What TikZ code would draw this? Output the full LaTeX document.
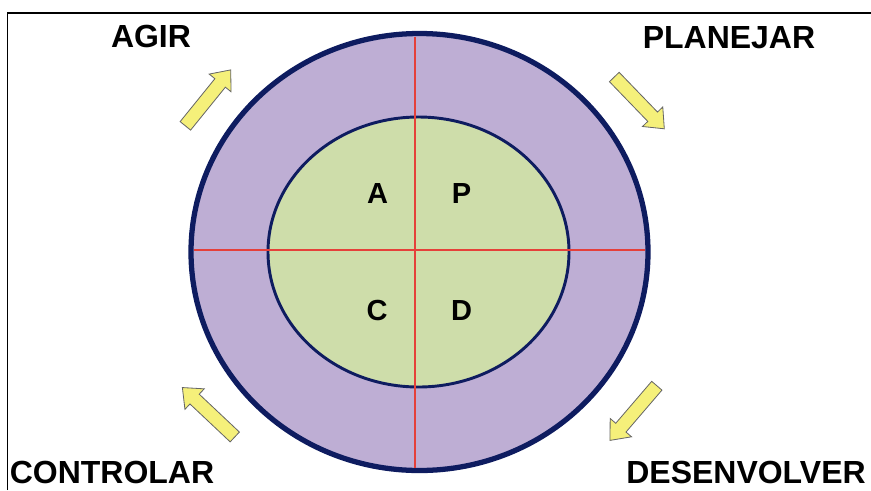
\documentclass[tikz,border=0pt]{standalone}
\usepackage{fontspec}
\setmainfont{Liberation Sans}
\usepackage{tikz}
\usetikzlibrary{shapes.arrows}
\usepackage{xcolor}
\definecolor{ringlilac}{RGB}{190,174,212}
\definecolor{coregreen}{RGB}{206,221,170}
\definecolor{ringnavy}{RGB}{14,28,96}
\definecolor{crossred}{RGB}{229,64,58}
\definecolor{arrowyellow}{RGB}{245,240,122}

\begin{document}
\begin{tikzpicture}[x=0.03cm, y=-0.03cm,
  phase/.style={font=\bfseries\fontsize{27.3}{27.3}\selectfont, anchor=base, inner sep=0pt},
  letter/.style={font=\bfseries\fontsize{24.8}{24.8}\selectfont, anchor=base, inner sep=0pt},
  turn/.style={single arrow, draw=black!60, line width=0.7pt, fill=arrowyellow,
    inner sep=0.19cm, minimum height=2.16cm, single arrow head extend=0.22cm,
    single arrow tip angle=80}]
\useasboundingbox (0,0) rectangle (871,490);
\draw[line width=1.7pt] (7.5,490) -- (7.5,12.5) -- (871,12.5);
\filldraw[fill=ringlilac, draw=ringnavy, line width=4.5pt] (419.5,252) ellipse [x radius=228.5, y radius=218.5];
\filldraw[fill=coregreen, draw=ringnavy, line width=2.5pt] (418.5,252) ellipse [x radius=150.5, y radius=135];
\draw[crossred, line width=1.3pt] (415,36.5) -- (415,467.5);
\draw[crossred, line width=1.3pt] (194,250) -- (645,250);
\node[letter] (a) at (377.5,203) {A};
\node[letter] (p) at (461.5,203) {P};
\node[letter] (c) at (377,320) {C};
\node[letter] (d) at (461.5,320) {D};
\node[phase] (agir) at (151,47) {AGIR};
\node[phase] (planejar) at (729,48) {PLANEJAR};
\node[phase] (controlar) at (112,483) {CONTROLAR};
\node[phase] (desenvolver) at (746,483) {DESENVOLVER};
\node[turn, rotate=51] (toagir) at (205.5,101) {};
\node[turn, rotate=-46] (toplanejar) at (636.5,100) {};
\node[turn, rotate=136.7] (tocontrolar) at (211.5,415) {};
\node[turn, rotate=229.4] (todesenvolver) at (636,410) {};
\end{tikzpicture}
\end{document}
